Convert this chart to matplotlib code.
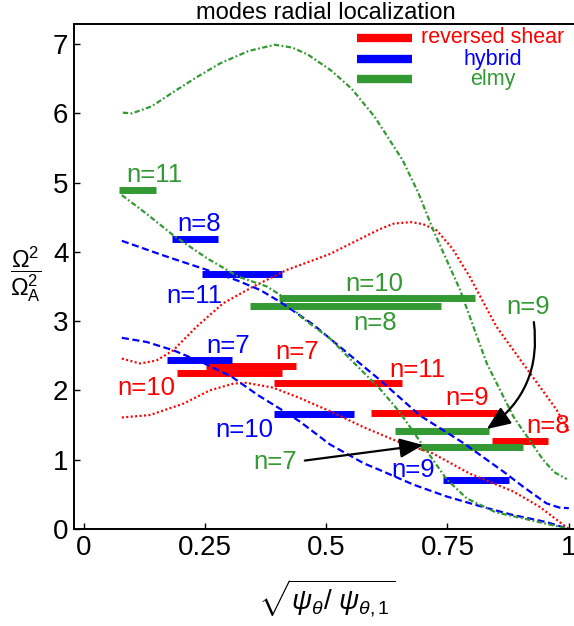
import numpy as np
import matplotlib.pyplot as plt

plt.rcParams['font.family'] = ['Liberation Sans', 'DejaVu Sans']
plt.rcParams['mathtext.fontset'] = 'custom'
plt.rcParams['mathtext.rm'] = 'Liberation Sans'
plt.rcParams['mathtext.it'] = 'Liberation Sans:italic'
plt.rcParams['mathtext.bf'] = 'Liberation Sans:bold'

RED = '#ff0000'
BLUE = '#0000ff'
GREEN = '#339933'

# frequency profiles
g1_x = [0.081, 0.10, 0.14, 0.19, 0.235, 0.281, 0.34, 0.394, 0.43, 0.462, 0.51, 0.552, 0.60, 0.658,
        0.69, 0.721, 0.776, 0.831, 0.886, 0.947, 0.97, 0.996]
g1_y = [6.01, 6.00, 6.10, 6.33, 6.53, 6.72, 6.90, 6.99, 6.95, 6.85, 6.62, 6.36, 5.95, 5.32,
        4.85, 4.31, 3.45, 2.39, 1.62, 1.00, 0.82, 0.72]
g2_x = [0.079, 0.13, 0.185, 0.254, 0.32, 0.378, 0.405, 0.45, 0.508, 0.55, 0.61, 0.65, 0.70, 0.748,
        0.79, 0.85, 0.92, 1.0]
g2_y = [4.82, 4.55, 4.24, 3.91, 3.64, 3.50, 3.38, 3.05, 2.75, 2.45, 2.03, 1.70, 1.20, 0.72,
        0.44, 0.24, 0.13, 0.0]
b1_x = [0.079, 0.164, 0.254, 0.316, 0.364, 0.405, 0.4735, 0.542, 0.611, 0.693, 0.783, 0.865, 0.906,
        0.954, 0.98, 1.0]
b1_y = [4.16, 3.95, 3.74, 3.59, 3.45, 3.28, 2.95, 2.55, 2.15, 1.64, 1.24, 0.83, 0.61,
        0.37, 0.31, 0.30]
b2_x = [0.079, 0.13, 0.185, 0.24, 0.305, 0.36, 0.42, 0.446, 0.508, 0.577, 0.611, 0.68, 0.748, 0.817,
        0.886, 0.954, 1.0]
b2_y = [2.76, 2.70, 2.58, 2.42, 2.20, 1.93, 1.67, 1.55, 1.22, 0.95, 0.85, 0.64, 0.47, 0.33,
        0.20, 0.10, 0.0]
r1_x = [0.079, 0.116, 0.15, 0.185, 0.233, 0.288, 0.35, 0.419, 0.508, 0.611, 0.64, 0.675, 0.70, 0.728,
        0.76, 0.796, 0.851, 0.92, 0.975, 1.0]
r1_y = [2.46, 2.39, 2.43, 2.58, 2.92, 3.26, 3.50, 3.74, 3.97, 4.33, 4.41, 4.43, 4.40, 4.31,
        4.05, 3.64, 2.92, 2.25, 1.72, 1.40]
r2_x = [0.079, 0.137, 0.206, 0.26, 0.309, 0.336, 0.391, 0.446, 0.508, 0.577, 0.645, 0.72, 0.796,
        0.886, 0.94, 1.0]
r2_y = [1.61, 1.645, 1.81, 2.00, 2.10, 2.11, 2.04, 1.89, 1.70, 1.47, 1.27, 1.09, 0.80,
        0.54, 0.32, 0.0]

# mode localization: radial extent and eigenvalue
red_n = [7, 10, 11, 9, 8]
red_start = [0.252, 0.193, 0.3925, 0.592, 0.842]
red_end = [0.438, 0.408, 0.657, 0.858, 0.9565]
red_val = [2.355, 2.256, 2.11, 1.67, 1.274]

blue_n = [8, 11, 7, 10, 9]
blue_start = [0.183, 0.2435, 0.173, 0.3925, 0.741]
blue_end = [0.278, 0.408, 0.307, 0.5575, 0.877]
blue_val = [4.19, 3.675, 2.443, 1.664, 0.703]

green_n = [11, 10, 8, 9, 7]
green_start = [0.074, 0.403, 0.343, 0.6425, 0.693]
green_end = [0.149, 0.807, 0.737, 0.836, 0.906]
green_val = [4.89, 3.335, 3.22, 1.414, 1.188]

# label anchors (left, baseline)
red_pos = [(0.395, 2.453), (0.0696, 1.934), (0.630, 2.198), (0.745, 1.789), (0.913, 1.381)]
blue_pos = [(0.193, 4.304), (0.170, 3.266), (0.254, 2.544), (0.271, 1.323), (0.635, 0.746)]
green_pos = [(0.089, 5.012), (0.539, 3.439), (0.555, 2.872), (0.872, 3.102), (0.349, 0.866)]

fig = plt.figure(figsize=(5.74, 6.26), dpi=100)
ax = fig.add_axes([74 / 574, 97 / 626, 504.5 / 574, 505 / 626])
ax.set_xlim(-0.0196, 1.02)
ax.set_ylim(0, 7.29)

groups = [
    (RED, red_n, red_start, red_end, red_val, red_pos),
    (BLUE, blue_n, blue_start, blue_end, blue_val, blue_pos),
    (GREEN, green_n, green_start, green_end, green_val, green_pos),
]
for col, ns, x0s, x1s, vals, pos in groups:
    for x0, x1, v in zip(x0s, x1s, vals):
        ax.plot([x0, x1], [v, v], color=col, lw=5.0, solid_capstyle='butt')

dot = (0, (0.9, 1.1))
dash = (0, (3.2, 1.6))
dashdot = (0, (2.4, 1.1, 0.8, 1.1))
ax.plot(r1_x, r1_y, color=RED, lw=1.6, ls=dot)
ax.plot(r2_x, r2_y, color=RED, lw=1.6, ls=dot)
ax.plot(b1_x, b1_y, color=BLUE, lw=1.6, ls=dash)
ax.plot(b2_x, b2_y, color=BLUE, lw=1.6, ls=dash)
ax.plot(g1_x, g1_y, color=GREEN, lw=1.6, ls=dashdot)
ax.plot(g2_x, g2_y, color=GREEN, lw=1.6, ls=dashdot)

for col, ns, x0s, x1s, vals, pos in groups:
    for n, (tx, ty) in zip(ns, pos):
        ax.text(tx, ty, f'n={n}', color=col, fontsize=18.5, ha='left', va='baseline')

# arrows pointing the two elmy labels to their bars
head = '-|>,head_length=0.6,head_width=0.25'
ax.annotate('', xy=(0.831, 1.443), xytext=(0.928, 2.987),
            arrowprops=dict(arrowstyle=head, connectionstyle='arc3,rad=-0.3',
                            color='k', lw=1.6, mutation_scale=24, shrinkA=0, shrinkB=0))
ax.annotate('', xy=(0.700, 1.212), xytext=(0.456, 0.988),
            arrowprops=dict(arrowstyle=head, color='k', lw=1.6,
                            mutation_scale=24, shrinkA=0, shrinkB=0))

# legend
leg_labels = ['reversed shear', 'hybrid', 'elmy']
leg_colors = [RED, BLUE, GREEN]
leg_y = [7.09, 6.78, 6.49]
for lab, col, ly in zip(leg_labels, leg_colors, leg_y):
    ax.plot([0.5636, 0.677], [ly, ly], color=col, lw=6.0, solid_capstyle='butt')
    ax.text(0.843, ly, lab, color=col, fontsize=15.5, ha='center', va='center')

ax.set_xticks([0, 0.25, 0.5, 0.75, 1])
ax.set_xticklabels(['0', '0.25', '0.5', '0.75', '1'])
ax.set_yticks(range(8))
ax.tick_params(direction='in', length=4, width=1, labelsize=20, pad=4)
for s in ax.spines.values():
    s.set_linewidth(1.4)

ax.set_title('modes radial localization', fontsize=17, pad=2)
fig.text(26 / 574, 1 - 275 / 626, r'$\dfrac{\Omega^2}{\Omega_\mathrm{A}^2}$',
         fontsize=17, ha='center', va='center')
fig.text(327 / 574, 1 - 598 / 626, r'$\sqrt{\psi_\theta/\ \psi_{\theta,\mathrm{1}}}$',
         fontsize=20, ha='center', va='center')

fig.savefig('out.png', dpi=100)
